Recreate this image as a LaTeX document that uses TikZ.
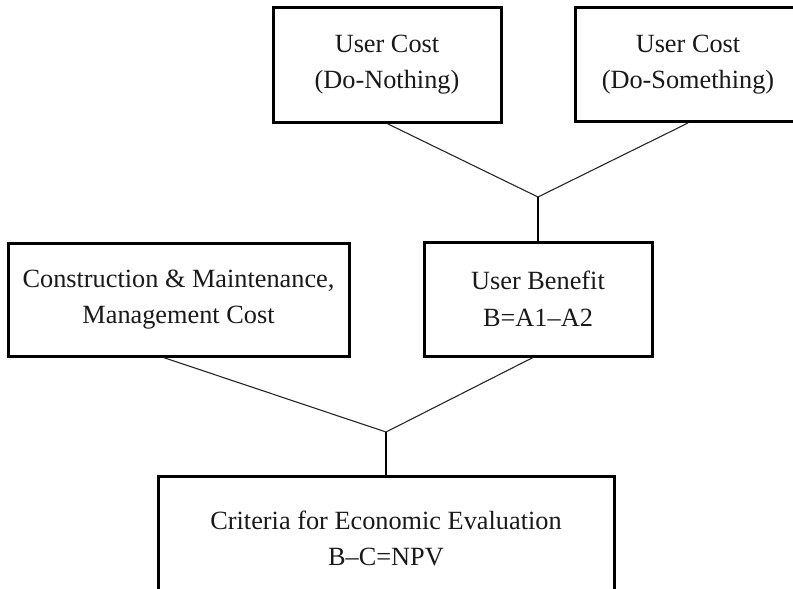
\documentclass[tikz,border=0pt]{standalone}
\usepackage{fontspec}
\setmainfont{Liberation Serif}
\begin{document}
\begin{tikzpicture}[x=1pt,y=1pt,
  box/.style={draw=black, line width=3pt, rectangle, inner sep=0pt, align=center,
              font=\fontsize{26.3}{36.5}\selectfont, text=black!90},
  thinline/.style={draw=black!85, line width=1.1pt},
  stem/.style={draw=black, line width=2.2pt}]
\useasboundingbox (0,0) rectangle (793,-589);
\clip (0,0) rectangle (793,-589);
\node[box, minimum width=228, minimum height=115] (n1) at (387,-64.5) {User Cost\\(Do-Nothing)};
\node[box, minimum width=226, minimum height=114] (n2) at (688,-64.5) {User Cost\\(Do-Something)};
\node[box, minimum width=341, minimum height=113] (n3) at (178.5,-299.5) {Construction \& Maintenance,\\Management Cost};
\node[box, minimum width=228, minimum height=114] (n4) at (538,-299) {User Benefit\\B=A1--A2};
\node[box, minimum width=456, minimum height=125] (n5) at (386,-538.5) {Criteria for Economic Evaluation\\B--C=NPV};
\coordinate (j1) at (538,-197);
\coordinate (j2) at (386,-432);
\draw[thinline] (n1.south) -- (j1);
\draw[thinline] (n2.south) -- (j1);
\draw[stem] (j1) -- (n4.north);
\draw[thinline] ([xshift=-15pt]n3.south) -- (j2);
\draw[thinline] ([xshift=-5pt]n4.south) -- (j2);
\draw[stem] (j2) -- (n5.north);
\end{tikzpicture}
\end{document}
